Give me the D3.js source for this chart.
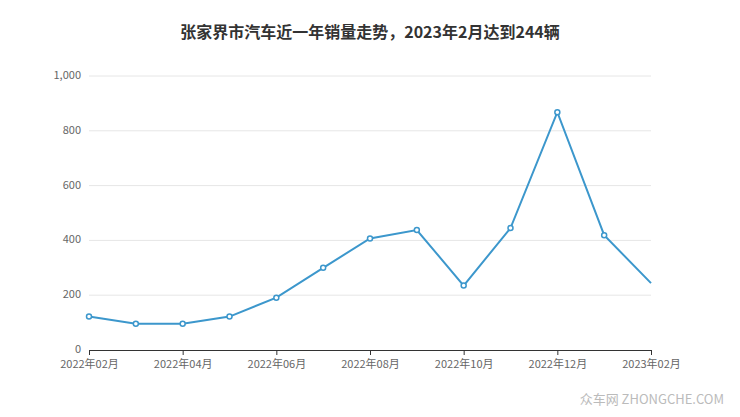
<!DOCTYPE html>
<html><head><meta charset="utf-8">
<script src="https://cdn.jsdelivr.net/npm/d3@7"></script>
<style>body{margin:0;background:#fff;font-family:"Noto Sans CJK SC","Noto Sans",sans-serif}</style>
</head><body><svg id="c" width="740" height="417"></svg>
<script>
const months = ["2022年02月","2022年03月","2022年04月","2022年05月","2022年06月","2022年07月","2022年08月","2022年09月","2022年10月","2022年11月","2022年12月","2023年01月","2023年02月"];
const sales = [122,96,96,122,191,300,407,438,235,445,868,419,244];
const yTicks = [0,200,400,600,800,1000];
const title = "张家界市汽车近一年销量走势，2023年2月达到244辆";

const svg = d3.select("#c");
const L=89,R=651,T=76,B=350;
const x = d3.scalePoint().domain(months).range([L,R]);
const y = d3.scaleLinear().domain([0,1000]).range([B,T]);

svg.append("text").attr("x",370).attr("y",38).attr("text-anchor","middle")
  .attr("font-size",16).attr("font-weight","bold").attr("fill","#333").text(title);

svg.append("g").selectAll("line").data(yTicks.slice(1)).join("line")
  .attr("x1",L).attr("x2",R).attr("y1",d=>y(d)).attr("y2",d=>y(d))
  .attr("stroke","#e6e6e6");
svg.append("g").selectAll("text").data(yTicks).join("text")
  .attr("x",L-8).attr("y",d=>y(d)+3).attr("text-anchor","end")
  .attr("font-size",11).attr("fill","#666").text(d3.format(","));

const xa = svg.append("g").attr("transform",`translate(0,${B})`)
  .call(d3.axisBottom(x).tickValues(months.filter((d,i)=>i%2==0)).tickSize(5).tickPadding(5));
xa.select(".domain").attr("stroke","#333");
xa.selectAll(".tick line").attr("stroke","#333");
xa.selectAll("text").attr("font-size",11).attr("fill","#666")
  .attr("font-family","'Noto Sans CJK SC',sans-serif");

svg.append("path").datum(sales)
  .attr("d",d3.line().x((d,i)=>x(months[i])).y(d=>y(d)))
  .attr("fill","none").attr("stroke","#3c97cc").attr("stroke-width",2);
svg.append("g").selectAll("circle").data(sales.slice(0,-1)).join("circle")
  .attr("cx",(d,i)=>x(months[i])).attr("cy",d=>y(d)).attr("r",2.5)
  .attr("fill","#fff").attr("stroke","#3c97cc").attr("stroke-width",1.5);

svg.append("text").attr("x",724).attr("y",404).attr("text-anchor","end")
  .attr("font-size",13).attr("fill","#bbb").text("众车网 ZHONGCHE.COM");
</script></body></html>
